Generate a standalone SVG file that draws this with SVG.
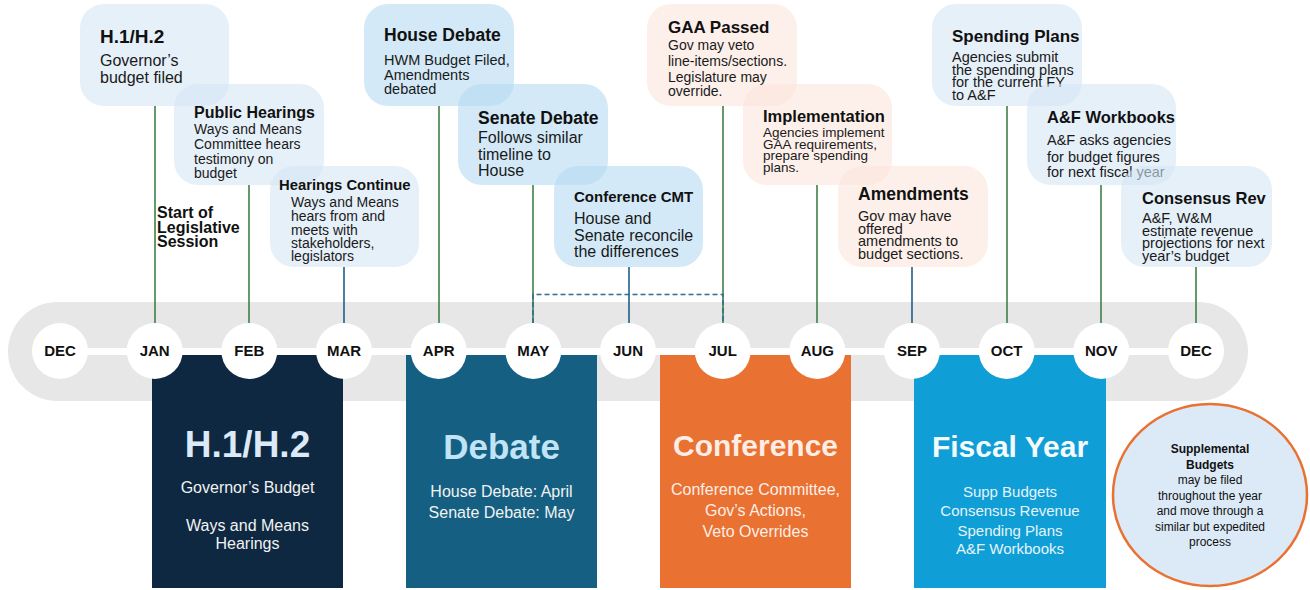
<svg xmlns="http://www.w3.org/2000/svg" width="1310" height="590" viewBox="0 0 1310 590">
<style>
text{font-family:"Liberation Sans",Arial,sans-serif;}
.t{font-weight:bold;fill:#111;}
.b{fill:#1a1a1a;}
.ca{fill:#D5E6F5;fill-opacity:0.6;}
.cb{fill:#B6DAF2;fill-opacity:0.6;}
.cp{fill:#FCE6DC;fill-opacity:0.6;}
.g{stroke:#3F7F47;stroke-width:1.6;fill:none;}
.u{stroke:#1F5F88;stroke-width:1.6;fill:none;}
.d{stroke:#2E6E94;stroke-width:1.6;fill:none;stroke-dasharray:5 3;}
.m{fill:#fff;}
.ml{font-weight:bold;font-size:15px;text-anchor:middle;fill:#111;}
.c{text-anchor:middle;}
</style>
<rect id="timeline-bar" x="8" y="302" width="1240" height="99" rx="49.5" fill="#E7E7E7"/>
<rect x="60" y="348" width="1136" height="7" fill="#fff"/>

<g id="phase-h1">
<rect x="152" y="355" width="191" height="233" fill="#0E2841"/>
<text class="c" x="247.5" y="457" font-size="37" font-weight="bold" fill="#DCEAF7">H.1/H.2</text>
<text class="c" x="247.5" y="493" font-size="16" fill="#F2F2F2">Governor’s Budget</text>
<text class="c" x="247.5" y="531" font-size="16" fill="#F2F2F2">Ways and Means</text>
<text class="c" x="247.5" y="549" font-size="16" fill="#F2F2F2">Hearings</text>
</g>
<g id="phase-debate">
<rect x="406" y="355" width="191" height="233" fill="#156082"/>
<text class="c" x="501.5" y="459" font-size="35" font-weight="bold" fill="#C0E4F5">Debate</text>
<text class="c" x="501.5" y="497" font-size="16" fill="#F2F2F2">House Debate: April</text>
<text class="c" x="501.5" y="518" font-size="16" fill="#F2F2F2">Senate Debate: May</text>
</g>
<g id="phase-conference">
<rect x="660" y="355" width="191" height="233" fill="#E97132"/>
<text class="c" x="755.5" y="456" font-size="30" font-weight="bold" fill="#FCEDE5">Conference</text>
<text class="c" x="755.5" y="495" font-size="16" fill="#FDEEE6">Conference Committee,</text>
<text class="c" x="755.5" y="516" font-size="16" fill="#FDEEE6">Gov’s Actions,</text>
<text class="c" x="755.5" y="537" font-size="16" fill="#FDEEE6">Veto Overrides</text>
</g>
<g id="phase-fiscal">
<rect x="914" y="355" width="192" height="233" fill="#0F9ED5"/>
<text class="c" x="1010" y="457" font-size="30" font-weight="bold" fill="#F5FAFD">Fiscal Year</text>
<text class="c" x="1010" y="497" font-size="15" fill="#E6F4FB">Supp Budgets</text>
<text class="c" x="1010" y="516" font-size="15" fill="#E6F4FB">Consensus Revenue</text>
<text class="c" x="1010" y="536" font-size="15" fill="#E6F4FB">Spending Plans</text>
<text class="c" x="1010" y="554" font-size="15" fill="#E6F4FB">A&amp;F Workbooks</text>
</g>
<g id="supplemental">
<ellipse cx="1210" cy="495" rx="97" ry="91" fill="#DCEAF7" stroke="#E97132" stroke-width="2.5"/>
<text class="c" x="1210" y="453" font-size="12" font-weight="bold" fill="#111">Supplemental</text>
<text class="c" x="1210" y="469" font-size="12" font-weight="bold" fill="#111">Budgets</text>
<text class="c" x="1210" y="484" font-size="12" fill="#111">may be filed</text>
<text class="c" x="1210" y="500" font-size="12" fill="#111">throughout the year</text>
<text class="c" x="1210" y="515" font-size="12" fill="#111">and move through a</text>
<text class="c" x="1210" y="531" font-size="12" fill="#111">similar but expedited</text>
<text class="c" x="1210" y="546" font-size="12" fill="#111">process</text>
</g>

<g id="connectors">
<line class="g" x1="155" y1="106" x2="155" y2="323"/>
<line class="g" x1="249" y1="185" x2="249" y2="323"/>
<line class="u" x1="344" y1="267" x2="344" y2="323"/>
<line class="g" x1="439" y1="106" x2="439" y2="323"/>
<line class="g" x1="533" y1="185" x2="533" y2="323"/>
<line class="u" x1="629" y1="267" x2="629" y2="323"/>
<line class="g" x1="723" y1="106" x2="723" y2="323"/>
<line class="g" x1="817" y1="185" x2="817" y2="323"/>
<line class="u" x1="912" y1="267" x2="912" y2="323"/>
<line class="g" x1="1007" y1="106" x2="1007" y2="323"/>
<line class="g" x1="1101" y1="185" x2="1101" y2="323"/>
<line class="g" x1="1196" y1="267" x2="1196" y2="323"/>
<path class="d" d="M533 323 V294.5 H723 V323"/>
</g>

<g id="months">
<g id="m-dec0"><circle class="m" cx="60" cy="351" r="28"/><text class="ml" x="60" y="356">DEC</text></g>
<g id="m-jan"><circle class="m" cx="154.7" cy="351" r="28"/><text class="ml" x="154.7" y="356">JAN</text></g>
<g id="m-feb"><circle class="m" cx="249.3" cy="351" r="28"/><text class="ml" x="249.3" y="356">FEB</text></g>
<g id="m-mar"><circle class="m" cx="344" cy="351" r="28"/><text class="ml" x="344" y="356">MAR</text></g>
<g id="m-apr"><circle class="m" cx="438.7" cy="351" r="28"/><text class="ml" x="438.7" y="356">APR</text></g>
<g id="m-may"><circle class="m" cx="533.3" cy="351" r="28"/><text class="ml" x="533.3" y="356">MAY</text></g>
<g id="m-jun"><circle class="m" cx="628" cy="351" r="28"/><text class="ml" x="628" y="356">JUN</text></g>
<g id="m-jul"><circle class="m" cx="722.7" cy="351" r="28"/><text class="ml" x="722.7" y="356">JUL</text></g>
<g id="m-aug"><circle class="m" cx="817.3" cy="351" r="28"/><text class="ml" x="817.3" y="356">AUG</text></g>
<g id="m-sep"><circle class="m" cx="912" cy="351" r="28"/><text class="ml" x="912" y="356">SEP</text></g>
<g id="m-oct"><circle class="m" cx="1006.7" cy="351" r="28"/><text class="ml" x="1006.7" y="356">OCT</text></g>
<g id="m-nov"><circle class="m" cx="1101.3" cy="351" r="28"/><text class="ml" x="1101.3" y="356">NOV</text></g>
<g id="m-dec1"><circle class="m" cx="1196" cy="351" r="28"/><text class="ml" x="1196" y="356">DEC</text></g>
</g>

<g id="start-session">
<text class="t" x="157" y="218" font-size="16">Start of</text>
<text class="t" x="157" y="233" font-size="16">Legislative</text>
<text class="t" x="157" y="247" font-size="16">Session</text>
</g>

<g id="n-h1">
<rect class="ca" x="80" y="4" width="149" height="102" rx="24"/>
<text class="t" x="100" y="43" font-size="19">H.1/H.2</text>
<text class="b" x="100" y="66" font-size="16">Governor’s</text>
<text class="b" x="100" y="83" font-size="16">budget filed</text>
</g>
<g id="n-public-hearings">
<rect class="ca" x="174" y="84" width="150" height="101" rx="24"/>
<text class="t" x="194" y="118" font-size="16">Public Hearings</text>
<text class="b" x="194" y="134" font-size="14">Ways and Means</text>
<text class="b" x="194" y="149" font-size="14">Committee hears</text>
<text class="b" x="194" y="164" font-size="14">testimony on</text>
<text class="b" x="194" y="178" font-size="14">budget</text>
</g>
<g id="n-hearings-continue">
<rect class="ca" x="270" y="166" width="149" height="101" rx="24"/>
<text class="t" x="279" y="190" font-size="14.8">Hearings Continue</text>
<text class="b" x="291" y="207" font-size="14">Ways and Means</text>
<text class="b" x="291" y="221" font-size="14">hears from and</text>
<text class="b" x="291" y="235" font-size="14">meets with</text>
<text class="b" x="291" y="248" font-size="14">stakeholders,</text>
<text class="b" x="291" y="261" font-size="14">legislators</text>
</g>
<g id="n-house-debate">
<rect class="cb" x="364" y="4" width="150" height="102" rx="24"/>
<text class="t" x="384" y="41" font-size="17.5">House Debate</text>
<text class="b" x="384" y="65" font-size="14.5">HWM Budget Filed,</text>
<text class="b" x="384" y="80" font-size="14.5">Amendments</text>
<text class="b" x="384" y="94" font-size="14.5">debated</text>
</g>
<g id="n-senate-debate">
<rect class="cb" x="458" y="84" width="150" height="101" rx="24"/>
<text class="t" x="478" y="124" font-size="17.5">Senate Debate</text>
<text class="b" x="478" y="143" font-size="16">Follows similar</text>
<text class="b" x="478" y="160" font-size="16">timeline to</text>
<text class="b" x="478" y="176" font-size="16">House</text>
</g>
<g id="n-conference-cmt">
<rect class="cb" x="554" y="166" width="149" height="101" rx="24"/>
<text class="t" x="574" y="202" font-size="15">Conference CMT</text>
<text class="b" x="574" y="224" font-size="16">House and</text>
<text class="b" x="574" y="241" font-size="16">Senate reconcile</text>
<text class="b" x="574" y="257" font-size="16">the differences</text>
</g>
<g id="n-gaa-passed">
<rect class="cp" x="647" y="4" width="150" height="102" rx="24"/>
<text class="t" x="668" y="33" font-size="17">GAA Passed</text>
<text class="b" x="668" y="50" font-size="14">Gov may veto</text>
<text class="b" x="668" y="66" font-size="14">line-items/sections.</text>
<text class="b" x="668" y="82" font-size="14">Legislature may</text>
<text class="b" x="668" y="96" font-size="14">override.</text>
</g>
<g id="n-implementation">
<rect class="cp" x="743" y="84" width="149" height="101" rx="24"/>
<text class="t" x="763" y="122" font-size="16.5">Implementation</text>
<text class="b" x="763" y="137" font-size="13.5">Agencies implement</text>
<text class="b" x="763" y="148.5" font-size="13.5">GAA requirements,</text>
<text class="b" x="763" y="160" font-size="13.5">prepare spending</text>
<text class="b" x="763" y="171.5" font-size="13.5">plans.</text>
</g>
<g id="n-amendments">
<rect class="cp" x="838" y="166" width="150" height="101" rx="24"/>
<text class="t" x="858" y="200" font-size="17.5">Amendments</text>
<text class="b" x="858" y="221" font-size="14.5">Gov may have</text>
<text class="b" x="858" y="233.5" font-size="14.5">offered</text>
<text class="b" x="858" y="246" font-size="14.5">amendments to</text>
<text class="b" x="858" y="259" font-size="14.5">budget sections.</text>
</g>
<g id="n-spending-plans">
<rect class="ca" x="932" y="4" width="150" height="102" rx="24"/>
<text class="t" x="952" y="42" font-size="17">Spending Plans</text>
<text class="b" x="952" y="62" font-size="14.5">Agencies submit</text>
<text class="b" x="952" y="74.5" font-size="14.5">the spending plans</text>
<text class="b" x="952" y="87" font-size="14.5">for the current FY</text>
<text class="b" x="952" y="100" font-size="14.5">to A&amp;F</text>
</g>
<g id="n-af-workbooks">
<rect class="ca" x="1027" y="84" width="149" height="101" rx="24"/>
<text class="t" x="1047" y="123" font-size="16.5">A&amp;F Workbooks</text>
<text class="b" x="1047" y="145" font-size="14.5">A&amp;F asks agencies</text>
<text class="b" x="1047" y="162" font-size="14.5">for budget figures</text>
<text class="b" x="1047" y="177" font-size="14.5">for next fiscal year</text>
</g>
<g id="n-consensus-rev">
<rect class="ca" x="1121" y="166" width="151" height="101" rx="24"/>
<text class="t" x="1142" y="204" font-size="16.5">Consensus Rev</text>
<text class="b" x="1142" y="223" font-size="14.5">A&amp;F, W&amp;M</text>
<text class="b" x="1142" y="235.5" font-size="14.5">estimate revenue</text>
<text class="b" x="1142" y="248" font-size="14.5">projections for next</text>
<text class="b" x="1142" y="261" font-size="14.5">year’s budget</text>
</g>
</svg>
